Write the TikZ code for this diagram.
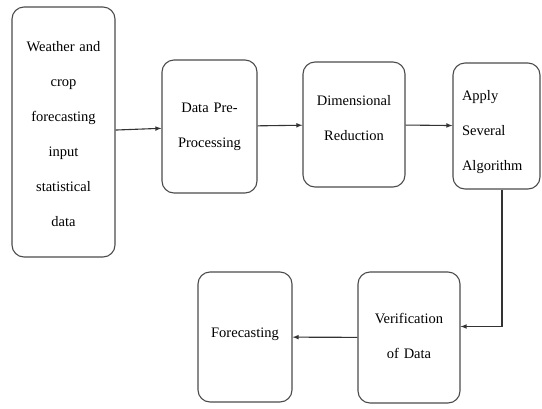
\documentclass[tikz,border=0pt]{standalone}
\usepackage{fontspec}
\setmainfont{Liberation Serif}
\newfontfamily\boxfont{Liberation Serif}
\usepackage{tikz}
\usetikzlibrary{arrows,%
                shapes,positioning}

\begin{document}
\begin{tikzpicture}[x=1pt, y=-1pt,
  stage/.style={draw=black!70, line width=1.1pt, rounded corners=12pt, inner xsep=0pt, inner ysep=0pt, align=center, font=\boxfont\fontsize{14.5pt}{35pt}\selectfont},
  flow/.style={draw=black!80, line width=1.1pt, -latex}]
\useasboundingbox (0,0) rectangle (542,408);
\node[stage, text width=103pt, text height=44pt, text depth=206pt] (inp) at (63.5, 132) {Weather and\\crop\\forecasting\\input\\statistical\\data};
\node[stage, text width=95pt, text height=52pt, text depth=81pt] (pre) at (209.5, 126.5) {Data Pre-\\Processing};
\node[stage, text width=102pt, text height=43pt, text depth=82pt] (dim) at (354, 124.5) {Dimensional\\Reduction};
\node[stage, align=left, inner xsep=9pt, text width=69pt, text height=37pt, text depth=89pt] (alg) at (496.5, 126) {Apply\\Several\\Algorithm};
\node[stage, text width=102pt, text height=51pt, text depth=80pt] (ver) at (409, 337.5) {Verification\\of Data};
\node[stage, text width=94pt, text height=65pt, text depth=65pt] (fct) at (245, 337) {Forecasting};
\draw[flow] (inp) -- (pre);
\draw[flow] (pre) -- (dim);
\draw[flow] (dim) -- (alg);
\draw[flow] ([xshift=5.5pt]alg.south) |- ([yshift=11pt]ver.east);
\draw[flow] (ver) -- (fct);
\end{tikzpicture}
\end{document}
